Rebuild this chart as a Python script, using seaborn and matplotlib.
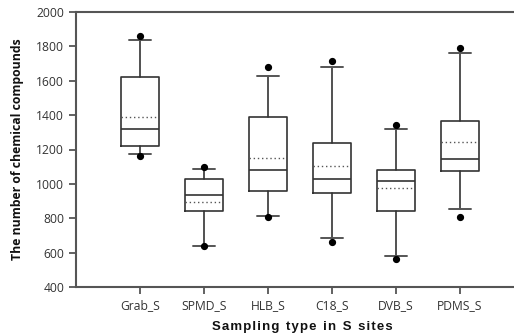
import matplotlib
matplotlib.use("Agg")
import matplotlib.pyplot as plt
import seaborn as sns

categories = ["Grab_S", "SPMD_S", "HLB_S", "C18_S", "DVB_S", "PDMS_S"]
whisker_low = [1172, 640, 815, 685, 579, 854]
q1 = [1219, 840, 957, 949, 844, 1073]
median = [1317, 935, 1079, 1027, 1015, 1147]
mean = [1391, 896, 1149, 1102, 974, 1242]
q3 = [1622, 1027, 1387, 1240, 1079, 1364]
whisker_high = [1835, 1085, 1630, 1680, 1321, 1763]
outlier_low = [1162, 639, 807, 660, 563, 806]
outlier_high = [1862, 1096, 1682, 1717, 1343, 1791]

sns.set_theme(style="ticks")
plt.rcParams["font.family"] = ["Open Sans", "DejaVu Sans"]

fig = plt.figure(figsize=(5.14, 3.35), dpi=100)
ax = fig.add_axes([76 / 514, 1 - 287 / 335, 1 - 76 / 514, 275 / 335])

stats = []
for i, name in enumerate(categories):
    stats.append(dict(label=name, whislo=whisker_low[i], q1=q1[i], med=median[i],
                      mean=mean[i], q3=q3[i], whishi=whisker_high[i],
                      fliers=[outlier_low[i], outlier_high[i]]))

edge = "#333333"
ax.bxp(stats, positions=range(1, len(categories) + 1), widths=0.6,
       showmeans=True, meanline=True, showfliers=True,
       boxprops=dict(color=edge, linewidth=1.2),
       medianprops=dict(color=edge, linewidth=1.2),
       meanprops=dict(color="#555555", linewidth=1.0, linestyle=(0, (1, 2))),
       whiskerprops=dict(color=edge, linewidth=1.2),
       capprops=dict(color="#555555", linewidth=1.4),
       capwidths=0.35,
       flierprops=dict(marker="o", markerfacecolor="black", markeredgecolor="black",
                       markersize=4.2, linestyle="none"))

ax.set_xlim(0, (514 - 76) / 64)
ax.set_ylim(400, 2000)
ax.set_yticks(range(400, 2001, 200))
ax.set_xticks(range(1, len(categories) + 1))
ax.set_xticklabels(categories)

for s in ["left", "bottom", "top"]:
    ax.spines[s].set_color("#555555")
    ax.spines[s].set_linewidth(1.5)
    ax.spines[s].set_visible(True)
ax.spines["right"].set_visible(False)
ax.tick_params(axis="both", colors="#555555", width=1.3, length=5, direction="out",
               labelsize=8.7, labelcolor="#333333")
ax.tick_params(axis="x", pad=4)
ax.grid(False)

ax.set_ylabel("The number of chemical compounds", fontsize=8.8, fontweight="bold",
              family=["Open Sans", "DejaVu Sans"], color="#111111", labelpad=9)
fig.text(302 / 514, 1 - 327 / 335, "S a m p l i n g   t y p e   i n   S   s i t e s".replace("   ", "\u2002").replace(" ", "\u200a"),
         ha="center", va="center", fontsize=9.5, fontweight="bold",
         family=["Liberation Sans", "DejaVu Sans"], color="#111111")

fig.savefig("out.png", dpi=100)
